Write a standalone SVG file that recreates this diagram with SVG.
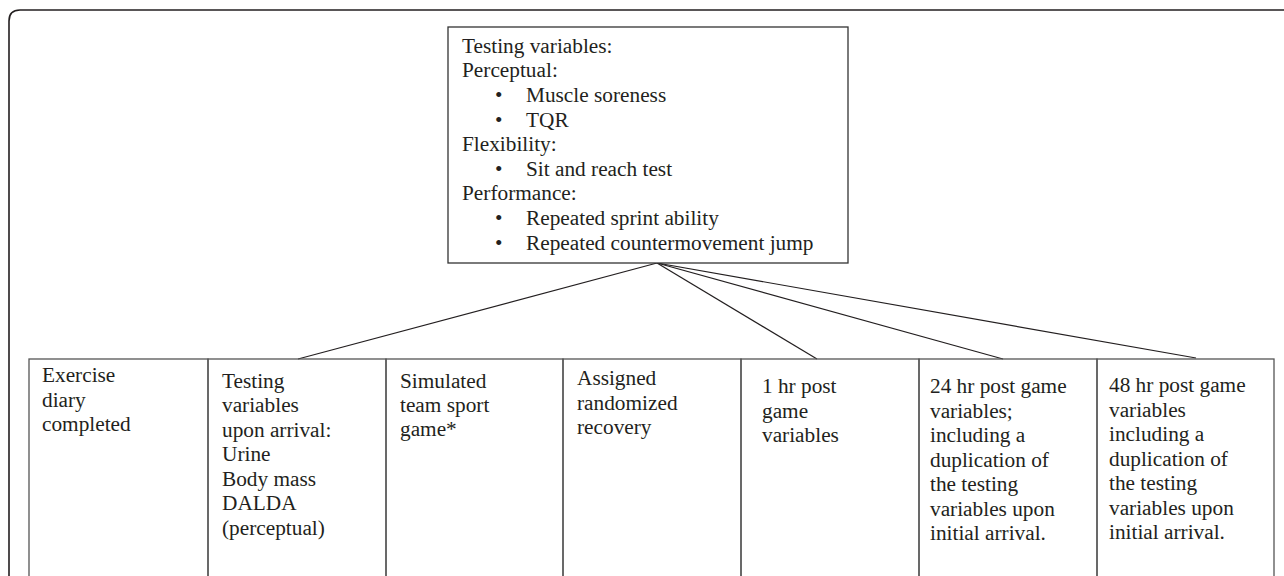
<svg xmlns="http://www.w3.org/2000/svg" width="1284" height="576" viewBox="0 0 1284 576">
<style>
text{font-family:"Liberation Serif","Times New Roman",serif;font-size:21.3px;fill:#231f20}
.box{fill:#fff;stroke:#333;stroke-width:1.3}
.cell{fill:none;stroke:#555;stroke-width:1.3}
.con line{stroke:#231f20;stroke-width:1.2}
</style>
<rect width="1284" height="576" fill="#fff"/>
<path d="M9,600 V21 Q9,10 20,10 H1300" fill="none" stroke="#231f20" stroke-width="1.6"/>
<g id="connectors" class="con">
<line x1="657" y1="263" x2="298" y2="359"/>
<line x1="657" y1="263" x2="817" y2="359"/>
<line x1="657" y1="263" x2="1003" y2="359"/>
<line x1="657" y1="263" x2="1196" y2="358"/>
</g>
<g id="top">
<rect class="box" x="448" y="27" width="400" height="236"/>
<text x="462" y="53">Testing variables:</text>
<text x="462" y="77">Perceptual:</text>
<text x="495" y="102">•</text><text x="526" y="102">Muscle soreness</text>
<text x="495" y="127">•</text><text x="526" y="127">TQR</text>
<text x="462" y="151">Flexibility:</text>
<text x="495" y="176">•</text><text x="526" y="176">Sit and reach test</text>
<text x="462" y="200">Performance:</text>
<text x="495" y="225">•</text><text x="526" y="225">Repeated sprint ability</text>
<text x="495" y="250">•</text><text x="526" y="250">Repeated countermovement jump</text>
</g>
<g id="n1"><rect class="cell" x="29" y="359" width="179" height="240"/>
<text x="42" y="382">Exercise</text><text x="42" y="407">diary</text><text x="42" y="431">completed</text></g>
<g id="n2"><rect class="cell" x="208" y="359" width="178" height="240"/>
<text x="222" y="388">Testing</text><text x="222" y="412">variables</text><text x="222" y="437">upon arrival:</text><text x="222" y="461">Urine</text><text x="222" y="486">Body mass</text><text x="222" y="510">DALDA</text><text x="222" y="535">(perceptual)</text></g>
<g id="n3"><rect class="cell" x="386" y="359" width="177" height="240"/>
<text x="400" y="388">Simulated</text><text x="400" y="412">team sport</text><text x="400" y="436">game*</text></g>
<g id="n4"><rect class="cell" x="563" y="359" width="178" height="240"/>
<text x="577" y="385">Assigned</text><text x="577" y="410">randomized</text><text x="577" y="434">recovery</text></g>
<g id="n5"><rect class="cell" x="741" y="359" width="178" height="240"/>
<text x="762" y="393">1 hr post</text><text x="762" y="418">game</text><text x="762" y="442">variables</text></g>
<g id="n6"><rect class="cell" x="919" y="359" width="178" height="240"/>
<text x="930" y="393">24 hr post game</text><text x="930" y="418">variables;</text><text x="930" y="442">including a</text><text x="930" y="467">duplication of</text><text x="930" y="491">the testing</text><text x="930" y="516">variables upon</text><text x="930" y="540">initial arrival.</text></g>
<g id="n7"><rect class="cell" x="1097" y="359" width="177" height="240"/>
<text x="1109" y="392">48 hr post game</text><text x="1109" y="417">variables</text><text x="1109" y="441">including a</text><text x="1109" y="466">duplication of</text><text x="1109" y="490">the testing</text><text x="1109" y="515">variables upon</text><text x="1109" y="539">initial arrival.</text></g>
</svg>
